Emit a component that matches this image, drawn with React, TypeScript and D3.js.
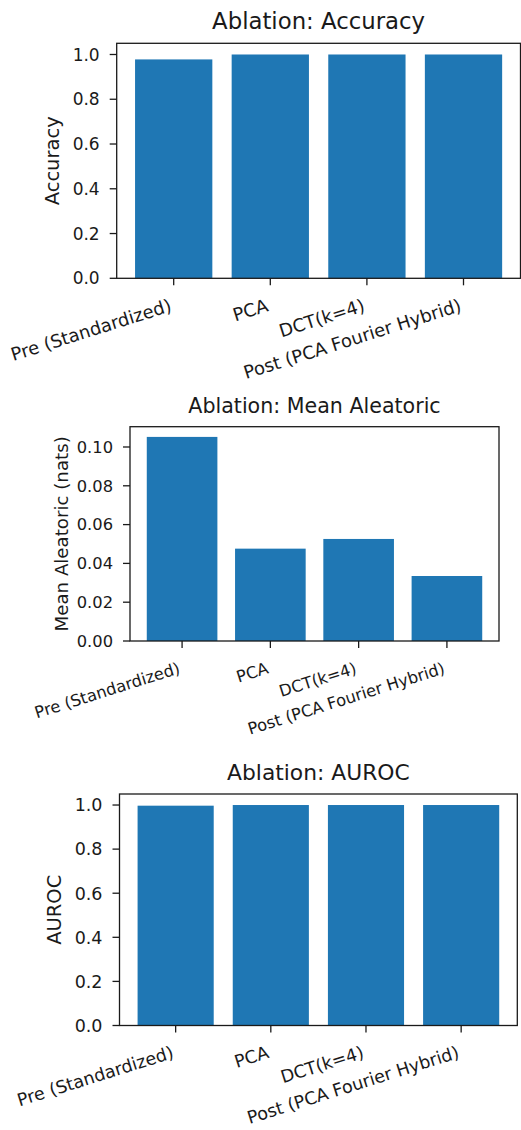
import React from "react";
import * as d3 from "d3";

const categories = ["Pre (Standardized)", "PCA", "DCT(k=4)", "Post (PCA Fourier Hybrid)"];
const accuracy = [0.978, 1.0, 1.0, 1.0];
const aleatoric = [0.1052, 0.0476, 0.0526, 0.0335];
const auroc = [0.997, 1.0, 1.0, 1.0];
const unitTicks = [0, 0.2, 0.4, 0.6, 0.8, 1.0];
const aleatoricTicks = [0, 0.02, 0.04, 0.06, 0.08, 0.1];

const BLUE = "#1f77b4";
const INK = "#1a1a1a";
const FONT = "DejaVu Sans, sans-serif";

type PanelProps = {
  title: string;
  ylabel: string;
  values: number[];
  ticks: number[];
  fmt: string;
  box: { left: number; right: number; top: number; bottom: number };
  yfs: number;
  xfs: number;
  lfs: number;
  titleFs: number;
  ylabelX: number;
  xlabelDy: number;
};

const Panel = ({ title, ylabel, values, ticks, fmt, box, yfs, xfs, lfs, titleFs, ylabelX, xlabelDy }: PanelProps) => {
  const x = d3.scaleLinear().domain([-0.59, categories.length - 1 + 0.59]).range([box.left, box.right]);
  const ymax = (d3.max(values) as number) * 1.05;
  const y = d3.scaleLinear().domain([0, ymax]).range([box.bottom, box.top]);
  const f = d3.format(fmt);
  const bw = x(0.8) - x(0);
  const cx = (box.left + box.right) / 2;
  const cy = (box.top + box.bottom) / 2;

  return (
    <g fontFamily={FONT} fill={INK}>
      <text x={cx} y={box.top - 14} textAnchor="middle" fontSize={titleFs}>
        {title}
      </text>
      {values.map((v, i) => (
        <rect key={i} x={x(i) - bw / 2} y={y(v)} width={bw} height={y(0) - y(v)} fill={BLUE} />
      ))}
      {ticks.map((t) => (
        <g key={t}>
          <line x1={box.left - 7} x2={box.left} y1={y(t)} y2={y(t)} stroke={INK} strokeWidth={1.3} />
          <text x={box.left - 17} y={y(t)} dy="0.36em" textAnchor="end" fontSize={yfs}>
            {f(t)}
          </text>
        </g>
      ))}
      {categories.map((c, i) => (
        <g key={c}>
          <line x1={x(i)} x2={x(i)} y1={box.bottom} y2={box.bottom + 7} stroke={INK} strokeWidth={1.3} />
          <text
            transform={`translate(${x(i) - 1},${box.bottom + xlabelDy}) rotate(-17.5)`}
            textAnchor="end"
            fontSize={xfs}
          >
            {c}
          </text>
        </g>
      ))}
      <rect
        x={box.left}
        y={box.top}
        width={box.right - box.left}
        height={box.bottom - box.top}
        fill="none"
        stroke={INK}
        strokeWidth={1.3}
      />
      <text transform={`translate(${ylabelX},${cy}) rotate(-90)`} textAnchor="middle" fontSize={lfs}>
        {ylabel}
      </text>
    </g>
  );
};

export default function App() {
  return (
    <svg
      width={521}
      height={1130}
      style={{ position: "absolute", left: 0, top: 0, background: "#fff" }}
    >
      <rect width={521} height={1130} fill="#fff" />
      <Panel
        title="Ablation: Accuracy"
        ylabel="Accuracy"
        values={accuracy}
        ticks={unitTicks}
        fmt=".1f"
        box={{ left: 116.7, right: 520.5, top: 43.3, bottom: 278.3 }}
        yfs={17}
        xfs={18}
        lfs={19.5}
        titleFs={22.8}
        ylabelX={59}
        xlabelDy={32.5}
      />
      <Panel
        title="Ablation: Mean Aleatoric"
        ylabel="Mean Aleatoric (nats)"
        values={aleatoric}
        ticks={aleatoricTicks}
        fmt=".2f"
        box={{ left: 130, right: 499, top: 426.7, bottom: 641 }}
        yfs={16.3}
        xfs={16.3}
        lfs={18.2}
        titleFs={20.6}
        ylabelX={68}
        xlabelDy={32}
      />
      <Panel
        title="Ablation: AUROC"
        ylabel="AUROC"
        values={auroc}
        ticks={unitTicks}
        fmt=".1f"
        box={{ left: 119.5, right: 517.3, top: 794, bottom: 1025.5 }}
        yfs={17.5}
        xfs={17.5}
        lfs={19.5}
        titleFs={21.8}
        ylabelX={61}
        xlabelDy={32}
      />
    </svg>
  );
}
